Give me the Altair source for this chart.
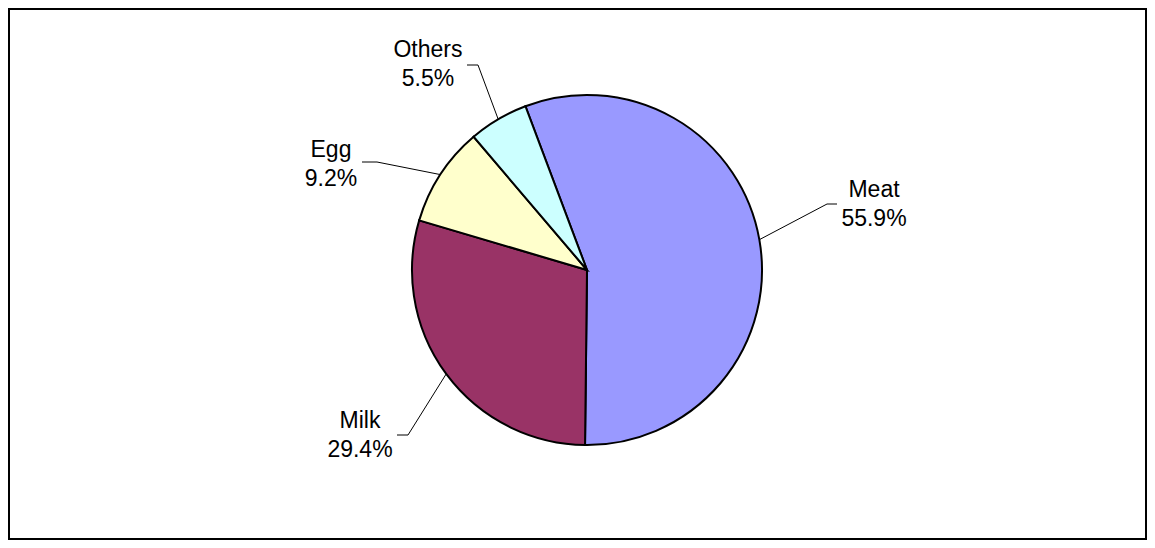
import math
import altair as alt
import pandas as pd

# ---- data ----
categories = ["Meat", "Milk", "Egg", "Others"]
shares = [55.9, 29.4, 9.2, 5.5]
colors = ["#9999FF", "#993366", "#FFFFCC", "#CCFFFF"]

# ---- layout constants ----
W, H = 1139, 532
CX, CY = 579, 262          # pie centre (chart pixels)
R = 175                    # pie radius
START_DEG = -20.6          # angle where the first slice begins (clockwise from top)
FONT = "Liberation Sans"
FS = 23
LINE_H = 29
# per label: elbow dx, elbow dy, stub length, label centre dx, first baseline dy (relative to centre)
LAYOUT = {
    "Meat": (240, -66, 10, 287, -73),
    "Milk": (-179, 165, -11, -227, 158),
    "Egg": (-210, -108, -15, -256, -113),
    "Others": (-109, -205, -11, -159, -213),
}

total = sum(shares)
pie_df = pd.DataFrame({"cat": categories, "value": shares, "idx": list(range(len(categories)))})

# leader lines and labels derived from the slice mid-angles
line_rows, text_rows = [], []
cum = 0.0
for c, s in zip(categories, shares):
    mid = math.radians(START_DEG + 360.0 * (cum + s / 2) / total)
    cum += s
    ex, ey = CX + R * math.sin(mid), CY - R * math.cos(mid)
    edx, edy, stub, ldx, ldy = LAYOUT[c]
    pts = [(ex, ey), (CX + edx, CY + edy), (CX + edx + stub, CY + edy)]
    for i, (px, py) in enumerate(pts):
        line_rows.append({"cat": c, "seq": i, "x": px, "y": py})
    text_rows.append({"cat": c, "x": CX + ldx, "y": CY + ldy, "label": f"{c}\n{s:.1f}%"})

line_df = pd.DataFrame(line_rows)
text_df = pd.DataFrame(text_rows)

xs = alt.Scale(domain=[0, W], range=[0, W])
ys = alt.Scale(domain=[0, H], range=[0, H])

frame = alt.Chart(pd.DataFrame({"k": [0]})).mark_rect(
    fill="white", stroke="black", strokeWidth=2
).encode(
    x=alt.value(1), x2=alt.value(W - 1), y=alt.value(1), y2=alt.value(H - 1)
)

a0 = math.radians(START_DEG)
pie = alt.Chart(pie_df).mark_arc(radius=R, stroke="black", strokeWidth=2).encode(
    theta=alt.Theta("value:Q", stack=True,
                    scale=alt.Scale(domain=[0, total], range=[a0, a0 + 2 * math.pi])),
    color=alt.Color("cat:N", scale=alt.Scale(domain=categories, range=colors), legend=None),
    order=alt.Order("idx:Q", sort="ascending"),
    x=alt.value(CX),
    y=alt.value(CY),
)

lines = alt.Chart(line_df).mark_line(color="black", strokeWidth=1).encode(
    x=alt.X("x:Q", scale=xs, axis=None),
    y=alt.Y("y:Q", scale=ys, axis=None),
    detail="cat:N",
    order="seq:Q",
)

texts = alt.Chart(text_df).mark_text(
    align="center", baseline="alphabetic", lineBreak="\n", lineHeight=LINE_H,
    font=FONT, fontSize=FS, color="black"
).encode(
    x=alt.X("x:Q", scale=xs, axis=None),
    y=alt.Y("y:Q", scale=ys, axis=None),
    text="label:N",
)

chart = alt.layer(frame, pie, lines, texts).properties(
    width=W, height=H, padding=0,
    autosize=alt.AutoSizeParams(type="fit", contains="padding"),
    background="white",
).configure_view(strokeWidth=0)

chart.save("out.html", embed_options={"renderer": "svg", "actions": False})
